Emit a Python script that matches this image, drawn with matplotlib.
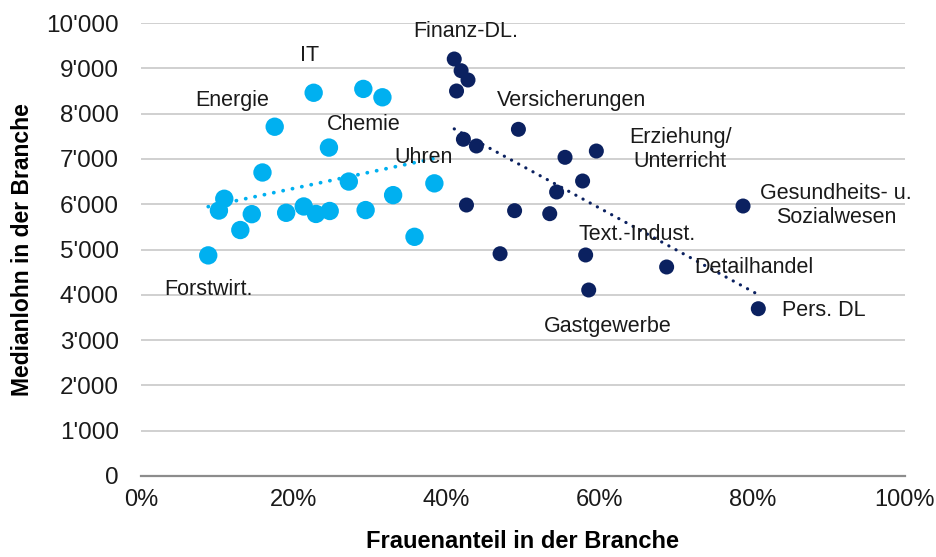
import numpy as np
import matplotlib
matplotlib.use("Agg")
import matplotlib.pyplot as plt
from matplotlib.ticker import FuncFormatter, MultipleLocator

# Light blue group (women share %, median wage)
light_x = [8.8, 10.2, 10.9, 13.0, 14.5, 15.9, 17.5, 19.0, 21.3, 22.6,
           22.9, 24.6, 24.7, 27.2, 29.1, 29.4, 31.6, 33.0, 35.8, 38.4]
light_y = [4870, 5860, 6120, 5430, 5780, 6700, 7710, 5810, 5950, 8460,
           5785, 7250, 5850, 6500, 8545, 5870, 8360, 6200, 5280, 6460]

# Dark blue group
dark_x = [41.0, 41.9, 42.8, 41.3, 49.4, 42.2, 43.9, 59.6, 55.5, 57.8,
          54.4, 42.6, 48.9, 53.5, 78.8, 47.0, 58.2, 68.8, 58.6, 80.8]
dark_y = [9205, 8947, 8742, 8499, 7653, 7433, 7285, 7174, 7035, 6512,
          6269, 5982, 5857, 5791, 5960, 4907, 4879, 4614, 4106, 3693]

labels = ["Finanz-DL.", "IT", "Energie", "Chemie", "Uhren", "Versicherungen",
          "Erziehung/\nUnterricht", "Gesundheits- u.\nSozialwesen", "Text.-Indust.",
          "Detailhandel", "Pers. DL", "Gastgewerbe", "Forstwirt."]
label_x = [42.5, 22.1, 12.0, 29.1, 37.0, 56.3, 70.6, 91.0, 65.0, 80.2, 89.4, 61.1, 8.9]
label_y = [9820, 9290, 8300, 7750, 7020, 8300, 7200, 5980, 5340, 4610, 3660, 3290, 4110]

LIGHT = "#00B0F0"
DARK = "#0B2160"

W, H, DPI = 936, 557, 100
fig = plt.figure(figsize=(W / DPI, H / DPI), dpi=DPI)
ax = fig.add_axes([141 / W, 1 - 476 / H, (905 - 141) / W, (476 - 23) / H])

ax.set_xlim(0, 100)
ax.set_ylim(0, 10000)
ax.yaxis.set_major_locator(MultipleLocator(1000))
ax.xaxis.set_major_locator(MultipleLocator(20))
ax.grid(axis="y", color="#D0D0D0", linewidth=1.4)
ax.set_axisbelow(True)
for s in ["top", "right", "left"]:
    ax.spines[s].set_visible(False)
ax.spines["bottom"].set_color("#8C8C8C")
ax.spines["bottom"].set_linewidth(1.6)
ax.tick_params(length=0)

# trend lines (OLS fit over each group's x range)
for xs, ys, c, lw in [(light_x, light_y, LIGHT, 2.7), (dark_x, dark_y, DARK, 2.3)]:
    xs = np.array(xs); ys = np.array(ys)
    m, b = np.polyfit(xs, ys, 1)
    xx = np.array([xs.min(), xs.max()])
    ax.plot(xx, m * xx + b, color=c, linewidth=lw, linestyle=(0, (0.05, 2.5)),
            dash_capstyle="round", zorder=2)

ax.scatter(light_x, light_y, s=18 ** 2 * 0.54, color=LIGHT, edgecolors="none", zorder=3)
ax.scatter(dark_x, dark_y, s=15 ** 2 * 0.52, color=DARK, edgecolors="none", zorder=3)

fam = ["Liberation Sans", "DejaVu Sans"]
for t, x, y in zip(labels, label_x, label_y):
    ax.text(x, y, t, ha="center", va="center", fontsize=15.5, family=fam,
            color="#1A1A1A", linespacing=1.2, zorder=4)

ax.yaxis.set_major_formatter(FuncFormatter(lambda v, p: f"{v:,.0f}".replace(",", "'")))
ax.xaxis.set_major_formatter(FuncFormatter(lambda v, p: f"{v:.0f}%"))
for lab in ax.get_yticklabels():
    lab.set_fontsize(17.5); lab.set_family(fam); lab.set_color("#1A1A1A")
for lab in ax.get_xticklabels():
    lab.set_fontsize(17); lab.set_family(fam); lab.set_color("#1A1A1A")
ax.tick_params(axis="y", pad=16)
ax.tick_params(axis="x", pad=9)

ax.set_xlabel("Frauenanteil in der Branche", fontsize=17, fontweight="bold",
              family=fam, labelpad=14)
ax.set_ylabel("Medianlohn in der Branche", fontsize=16.5, fontweight="bold",
              family=fam, labelpad=9)

fig.savefig("out.png", dpi=DPI)
